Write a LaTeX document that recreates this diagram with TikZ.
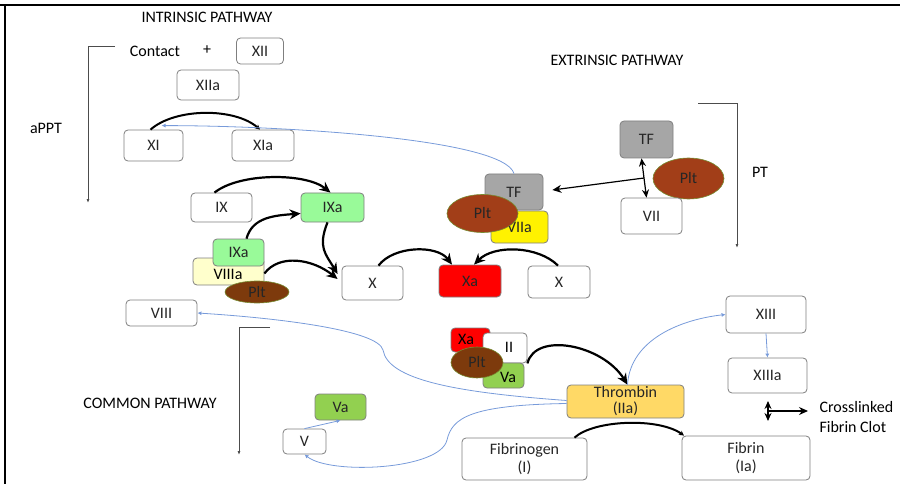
\documentclass[tikz,border=0pt]{standalone}
\usepackage{fontspec}
\setmainfont{Carlito}
\usetikzlibrary{positioning,arrows.meta,shapes.geometric}

\definecolor{boxgray}{RGB}{127,127,127}
\definecolor{ixgreen}{RGB}{153,250,153}
\definecolor{vagreen}{RGB}{146,208,80}
\definecolor{viiiyel}{RGB}{255,255,204}
\definecolor{tfgray}{RGB}{166,166,166}
\definecolor{thrombin}{RGB}{255,217,102}
\definecolor{pltdark}{RGB}{125,58,12}
\definecolor{pltrust}{RGB}{162,62,24}
\definecolor{pltline}{RGB}{120,140,50}
\definecolor{bluefb}{RGB}{120,155,218}

\tikzset{
  fac/.style={draw=boxgray, fill=white, rounded corners=4pt, line width=0.8pt, inner sep=0pt, text=black!85},
  sz/.style 2 args={minimum width=#1pt, minimum height=#2pt},
  plt/.style={ellipse, draw=pltline, line width=0.6pt, inner sep=0pt, text=black!85},
  conv/.style={line width=2.2pt, -{Stealth[length=11pt,width=10pt]}},
  cycarc/.style={line width=2pt, -{Stealth[length=5pt,width=5pt]}},
  feedback/.style={draw=bluefb, line width=0.8pt, -{Latex[length=4pt,width=4pt]}},
  assay/.style={draw=black!70, line width=0.8pt, -{Latex[length=4pt,width=3pt]}},
  dbl/.style={line width=1.2pt, {Stealth[length=8pt,width=7pt]}-{Stealth[length=8pt,width=7pt]}},
  sgl/.style={line width=1.2pt, -{Stealth[length=9pt,width=8pt]}},
}

\begin{document}
\begin{tikzpicture}[x=1pt,y=-1pt,font=\fontsize{16}{20}\selectfont]
\useasboundingbox (0,0) rectangle (900,484);
\draw[line width=2pt] (0,5) -- (900,5);
\draw[line width=2pt] (5,5) -- (5,484);

\node (intr) at (207,17) {INTRINSIC PATHWAY};
\node (extr) at (617,60) {EXTRINSIC PATHWAY};
\node (comm) at (150,403) {COMMON PATHWAY};
\node (appt) at (46,128) {aPPT};
\node (pt) at (760,172) {PT};
\node (contact) at (155,51) {Contact};
\node (plus) at (207,50) {+};
\node[align=left, anchor=west] (clot) at (816,417) {Crosslinked\\Fibrin Clot};

\node[fac, sz={47}{26}] (xii) at (260,51) {XII};
\node[fac, sz={62}{30}] (xiia) at (208,85) {XIIa};
\node[fac, sz={59}{31}] (xi) at (153.5,145.5) {XI};
\node[fac, sz={62}{31}] (xia) at (263,145.5) {XIa};

\node[fac, sz={61}{29}] (ix) at (221.5,207.5) {IX};
\node[fac, sz={63}{29}, fill=ixgreen] (ixa) at (332.5,207.5) {IXa};
\node[fac, sz={71}{27}, fill=viiiyel] (viiia) at (228.5,271.5) {};
\node at (228,274) {VIIIa};
\node[fac, sz={51}{27}, fill=ixgreen] (ixas) at (238.5,252.5) {IXa};
\node[plt, sz={64}{22}, fill=pltdark] (pltix) at (257,292) {Plt};

\node[fac, sz={61}{34}] (x1) at (372.5,283) {X};
\node[fac, sz={62}{32}, fill=red] (xa) at (470,281) {Xa};
\node[fac, sz={62}{32}] (x2) at (559,282) {X};

\node[fac, sz={58}{36}, fill=tfgray] (tfc) at (514,192) {TF};
\node[fac, sz={57}{32}, fill=yellow] (viia) at (519.5,227) {VIIa};
\node[plt, sz={71}{38}, fill=pltrust] (pltvii) at (482.5,213.5) {Plt};

\node[fac, sz={53}{37}, fill=tfgray] (tf) at (646.5,139.5) {TF};
\node[plt, sz={71}{41}, fill=pltrust] (plttf) at (688.5,178.5) {Plt};
\node[fac, sz={61}{36}] (vii) at (651.5,216) {VII};

\node[fac, sz={71}{26}] (viii) at (161.5,313) {VIII};
\node[fac, sz={51}{26}, fill=vagreen] (va) at (340.5,407) {Va};
\node[fac, sz={43}{25}] (v) at (304.5,441.5) {V};

\node[fac, sz={39}{24}, fill=red] (xap) at (470.5,340) {};
\node at (466,339) {Xa};
\node[fac, sz={44}{30}] (ii) at (505,348) {};
\node at (509,347) {II};
\node[fac, sz={41}{25}, fill=vagreen] (vap) at (503.5,375.5) {};
\node at (508,377) {Va};
\node[plt, sz={52}{31}, fill=pltdark] (pltii) at (477,362.5) {Plt};

\node[fac, sz={117}{33}, fill=thrombin, align=center, font=\fontsize{16}{16}\selectfont] (thr) at (625.5,401.5) {Thrombin\\(IIa)};
\node[fac, sz={80}{37}] (xiii) at (766,314.5) {XIII};
\node[fac, sz={79}{35}] (xiiia) at (767.5,375.5) {XIIIa};
\node[fac, sz={125}{42}, align=center, font=\fontsize{16}{18}\selectfont] (fgen) at (524.5,459) {Fibrinogen\\(I)};
\node[fac, sz={128}{44}, align=center, font=\fontsize{16}{18}\selectfont] (fibrin) at (746,458) {Fibrin\\(Ia)};

\coordinate (apA) at (115,46);
\coordinate (apB) at (88,203);
\coordinate (ptA) at (698,103);
\coordinate (ptB) at (737,248);
\coordinate (cpA) at (270,327);
\coordinate (cpB) at (239,455);
\coordinate (clA) at (768,401);
\coordinate (clB) at (768,421);
\coordinate (viiibend) at (383,350);
\coordinate (vbend) at (447,440);

\draw[assay] (apA) -| (apB);
\draw[assay] (ptA) -| (ptB);
\draw[assay] (cpA) -| (cpB);

\draw[cycarc] ([xshift=-3pt]xi.north) .. controls +(25,-22) and +(-25,-22) .. ([xshift=-3pt]xia.north);
\draw[feedback] (tfc.north) .. controls +(-10,-35) and +(120,0) .. ([shift={(8pt,4pt)}]xi.north);
\draw[conv] ([xshift=-7pt]ix.north) .. controls +(25,-20) and +(-25,-20) .. ([xshift=-2pt]ixa.north);
\draw[conv] ([xshift=8pt]ixas.north) .. controls +(6,-22) and +(-25,2) .. ([yshift=-6pt]ixa.west);
\draw[conv] ([xshift=-5pt]ixa.south) .. controls +(-10,25) and +(-12,-20) .. ([shift={(-4pt,9pt)}]x1.west);
\draw[conv] ([yshift=-2pt]viiia.east) .. controls +(15,-20) and +(-25,-20) .. ([shift={(-4pt,4pt)}]x1.west);
\draw[conv] ([xshift=6pt]x1.north) .. controls +(15,-20) and +(-15,-20) .. ([xshift=-18pt]xa.north);
\draw[conv] ([xshift=-1pt]x2.north) .. controls +(-20,-20) and +(20,-20) .. ([xshift=4pt]xa.north);

\draw[dbl] ([xshift=-5pt]tf.south) -- coordinate[pos=0.5] (tfmid) ([xshift=-5pt]vii.north);
\draw[sgl] (tfmid) -- ([shift={(9pt,2pt)}]tfc.east);

\draw[conv] (ii.south east) .. controls +(8,-32) and +(-25,-40) .. ([xshift=2pt]thr.north);
\draw[feedback] ([xshift=2pt]thr.north) .. controls +(3,-45) and +(-45,5) .. (xiii.west);
\draw[feedback] (xiii.south) -- (xiiia.north);
\draw[dbl] (clA) -- coordinate (clM) (clB);
\draw[sgl, shorten >=8pt] (clM) -- (clM -| clot.west);
\draw[cycarc] ([xshift=50pt]fgen.north) .. controls +(20,-18) and +(-25,-18) .. ([xshift=-62pt]fibrin.north);

\draw[feedback] ([yshift=1pt]thr.west) .. controls +(-110,-8) and +(5,30) .. (viiibend) .. controls +(-5,-20) and +(80,5) .. (viii.east);
\draw[feedback] ([yshift=-2pt]thr.west) .. controls (470,405) and (452,418) .. (vbend) .. controls (440,470) and (330,475) .. (v.south);
\draw[feedback] (v.north) -- (va.south);
\end{tikzpicture}
\end{document}
